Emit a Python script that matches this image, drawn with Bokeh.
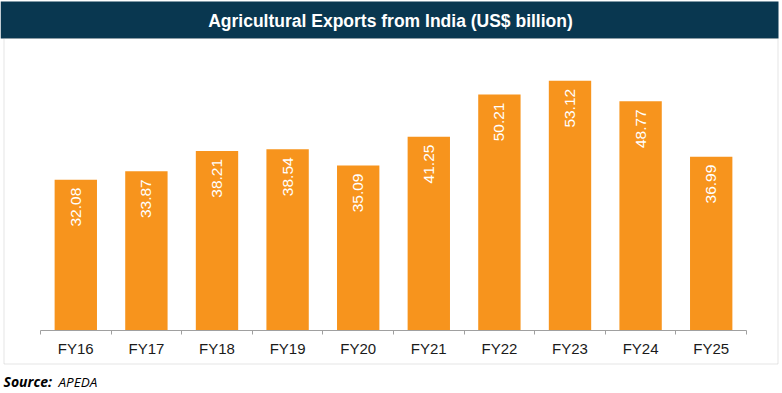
import math
from bokeh.plotting import figure
from bokeh.models import Range1d, FixedTicker, BoxAnnotation, Label, ColumnDataSource
from bokeh.embed import file_html
from bokeh.resources import INLINE
from bokeh.core.properties import value

years = ["FY16", "FY17", "FY18", "FY19", "FY20", "FY21", "FY22", "FY23", "FY24", "FY25"]
exports = [32.08, 33.87, 38.21, 38.54, 35.09, 41.25, 50.21, 53.12, 48.77, 36.99]
value_labels = ["32.08", "33.87", "38.21", "38.54", "35.09", "41.25", "50.21", "53.12", "48.77", "36.99"]
title_text = "Agricultural Exports from India (US$ billion)"
source_bold = "Source:"
source_name = "APEDA"

# page layout (pixels)
W, H = 780, 392
AX_LEFT, AX_RIGHT = 40, 746      # axis line extent
AX_Y = 330                        # axis line position
PX_PER_UNIT = 4.70                # vertical scale
n = len(years)
px_per_cat = (AX_RIGHT - AX_LEFT) / n

x_start = -0.5 - AX_LEFT / px_per_cat
x_end = n - 0.5 + (W - AX_RIGHT) / px_per_cat
y_start = -(H - AX_Y) / PX_PER_UNIT
y_end = AX_Y / PX_PER_UNIT

idx = list(range(n))

p = figure(frame_width=W, frame_height=H, output_backend="svg", toolbar_location=None,
           x_range=Range1d(x_start, x_end), y_range=Range1d(y_start, y_end),
           min_border=0, min_border_left=0, min_border_right=0, min_border_top=0, min_border_bottom=0,
           background_fill_color="white", border_fill_color="white")

# title bar and chart border
p.add_layout(BoxAnnotation(left=0, right=778, top=1, bottom=38,
                           left_units="canvas", right_units="canvas", top_units="canvas", bottom_units="canvas",
                           fill_color="#093750", fill_alpha=1, line_color=None, level="underlay"))
p.add_layout(BoxAnnotation(left=3.5, right=777.5, top=38, bottom=363.5,
                           left_units="canvas", right_units="canvas", top_units="canvas", bottom_units="canvas",
                           fill_alpha=0, line_color="#A6A6A6", line_width=1, level="underlay"))

src = ColumnDataSource(dict(x=idx, top=exports, label=value_labels))
p.vbar(x="x", top="top", bottom=0, width=0.6, source=src,
       fill_color="#F7941D", line_color=None)
p.text(x="x", y="top", text="label", source=src, angle=math.pi / 2,
       text_align="right", text_baseline="middle", y_offset=8,
       text_color="white", text_font=value("Liberation Sans"), text_font_size="15.5px")

ax = p.xaxis[0]
ax.fixed_location = 0
ax.bounds = (-0.5, n - 0.5)
ax.ticker = FixedTicker(ticks=idx, minor_ticks=[i - 0.5 for i in range(n + 1)])
ax.major_label_overrides = {i: y for i, y in zip(idx, years)}
ax.axis_line_color = "#A0A0A0"
ax.major_tick_line_color = None
ax.major_tick_out = 4
ax.major_tick_in = 0
ax.minor_tick_line_color = "#A0A0A0"
ax.minor_tick_out = 4
ax.minor_tick_in = 0
ax.major_label_standoff = 5
ax.major_label_text_font = "Liberation Sans"
ax.major_label_text_font_size = "15px"
ax.major_label_text_color = "#1a1a1a"

p.yaxis.visible = False
p.xgrid.visible = False
p.ygrid.visible = False
p.outline_line_color = None

p.add_layout(Label(x=390, y=20, x_units="canvas", y_units="canvas", text=title_text,
                   text_align="center", text_baseline="middle", text_color="white",
                   text_font="Liberation Sans", text_font_style="bold", text_font_size="17.5px"))
p.add_layout(Label(x=3, y=381, x_units="canvas", y_units="canvas", text=source_bold,
                   text_align="left", text_baseline="alphabetic", text_color="black",
                   text_font="Open Sans", text_font_style="bold italic", text_font_size="14px"))
p.add_layout(Label(x=58, y=381, x_units="canvas", y_units="canvas", text=source_name,
                   text_align="left", text_baseline="alphabetic", text_color="black",
                   text_font="Open Sans", text_font_style="italic", text_font_size="13.5px"))

open("out.html", "w").write(file_html(p, INLINE))
